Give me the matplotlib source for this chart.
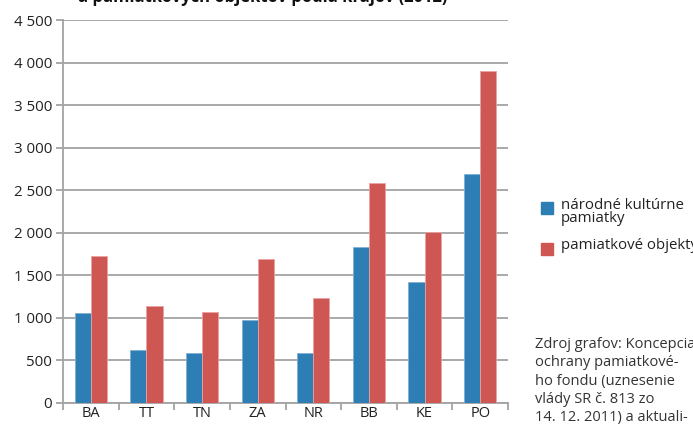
import matplotlib
matplotlib.use("Agg")
import matplotlib.pyplot as plt
import numpy as np

categories = ["BA", "TT", "TN", "ZA", "NR", "BB", "KE", "PO"]
nkp = [1062, 624, 585, 976, 585, 1832, 1420, 2686]
objekty = [1733, 1140, 1067, 1694, 1232, 2588, 2004, 3906]
yticks = [0, 500, 1000, 1500, 2000, 2500, 3000, 3500, 4000, 4500]
series_names = ["národné kultúrne\npamiatky", "pamiatkové objekty"]
title = "a pamiatkových objektov podľa krajov (2012)"
source = "Zdroj grafov: Koncepcia\nochrany pamiatkové-\nho fondu (uznesenie\nvlády SR č. 813 zo\n14. 12. 2011) a aktuali-"

blue = "#2c7eb4"
red = "#ce5754"
grid = "#a3a3a3"
font = ["Open Sans", "DejaVu Sans"]
plt.rcParams['font.family'] = font

fig = plt.figure(figsize=(6.93, 4.24), dpi=100)
ax = fig.add_axes([63/693, 21/424, 445/693, 383/424])

x = np.arange(len(categories))
w = 0.29
ax.bar(x - w/2, nkp, width=w, color=blue, edgecolor="#7fb0d3", linewidth=0.6, zorder=3)
ax.bar(x + w/2, objekty, width=w, color=red, edgecolor="#e8a3a1", linewidth=0.6, zorder=3)

ax.set_xlim(-0.5, len(categories) - 0.5)
ax.set_ylim(0, 4500)
ax.set_yticks(yticks)
ax.set_yticklabels([f"{v:,}".replace(",", " ") for v in yticks], fontsize=10.8, color="#222222")
ax.yaxis.grid(True, color=grid, linewidth=1.3, zorder=0)
ax.set_xticks(x)
ax.set_xticklabels(categories, fontsize=10.5, color="#222222")
ax.set_xticks(np.arange(len(categories) + 1) - 0.5, minor=True)
ax.tick_params(axis="x", which="major", length=0, pad=2)
ax.tick_params(axis="x", which="minor", length=5, color=grid, width=1.3)
ax.tick_params(axis="y", length=5, color=grid, width=1.3, pad=3)
for s in ["top", "right"]:
    ax.spines[s].set_visible(False)
for s in ["left", "bottom"]:
    ax.spines[s].set_color(grid)
    ax.spines[s].set_linewidth(1.3)

# title (cut at top)
fig.text(263/693, 1 - 2/424, title, ha="center", va="baseline", fontsize=12,
         fontweight="bold", color="#111111")

# legend
fig.patches.append(plt.Rectangle((541/693, 1 - 214/424), 12/693, 12/424,
                                 transform=fig.transFigure, color=blue))
fig.text(561/693, 1 - 198/424, series_names[0], ha="left", va="top", fontsize=10.8,
         color="#222222", linespacing=0.85)
fig.patches.append(plt.Rectangle((541/693, 1 - 255/424), 12/693, 12/424,
                                 transform=fig.transFigure, color=red))
fig.text(561/693, 1 - 238/424, series_names[1], ha="left", va="top", fontsize=10.8,
         color="#222222")

fig.text(535/693, 1 - 337/424, source, ha="left", va="top", fontsize=10.5,
         color="#333333", linespacing=1.3)

fig.savefig("out.png", dpi=100)
